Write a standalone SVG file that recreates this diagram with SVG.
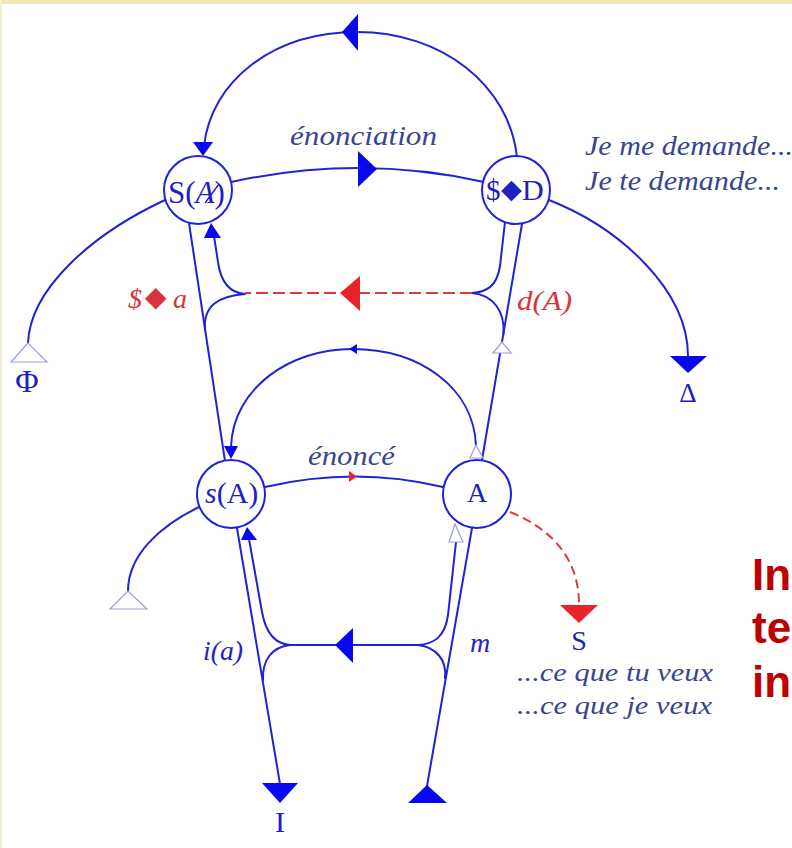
<svg xmlns="http://www.w3.org/2000/svg" width="792" height="848" viewBox="0 0 792 848">
<style>
.ln{fill:none;stroke:#1f22d6;stroke-width:2;stroke-linecap:round}
.nd{fill:#fff;stroke:#1f22d6;stroke-width:2}
.ah{fill:#0808ee}
.rah{fill:#e8232b}
.hol{fill:#fff;stroke:#9a9ee0;stroke-width:1.2}
.rd{fill:none;stroke:#e0393c;stroke-width:2;stroke-dasharray:12 5}
.lbl{font-family:"Liberation Serif","Times New Roman",serif;fill:#2020c0}
.it{font-family:"Liberation Serif","Times New Roman",serif;font-style:italic;fill:#3a4592}
.ri{font-family:"Liberation Serif","Times New Roman",serif;font-style:italic;fill:#d8343c}
.bi{font-family:"Liberation Serif","Times New Roman",serif;font-style:italic;fill:#2424c4}
.big{font-family:"Liberation Sans",Arial,sans-serif;font-weight:bold;font-size:44px;fill:#c00000}
.dm{font-family:"DejaVu Sans",sans-serif;font-style:normal}
</style>
<rect x="0" y="0" width="792" height="848" fill="#ffffff"/>
<rect x="0" y="0" width="792" height="4" fill="#f3e8b6"/>
<rect x="0" y="0" width="2" height="848" fill="#f5eed0"/>

<g id="connectors">
  <!-- top arc S◆D -> S(A) -->
  <path class="ln" d="M517,157 C509,85 442,32 357,32 C272,32 211,82 204,146"/>
  <polygon class="ah" points="342,32 358,14 358,51"/>
  <polygon class="ah" points="193,142 213,142 203,156"/>
  <!-- enonciation -->
  <path class="ln" d="M231,182 Q360,154 484,182"/>
  <polygon class="ah" points="377,169 358,151 358,187"/>
  <!-- S(A) to Phi -->
  <path class="ln" d="M165,200 C90,235 30,290 28,343"/>
  <polygon class="hol" points="28,343 11,362 47,362"/>
  <!-- S◆D to Delta -->
  <path class="ln" d="M549,200 C620,228 688,290 688,356"/>
  <polygon class="ah" points="670,356 707,356 688,373"/>
  <!-- left vector S(A) - s(A) -->
  <path class="ln" d="M189,223 L225,461"/>
  <path class="ln" d="M214,236 L218,262 C221,284 231,293 245,294"/>
  <path class="ln" d="M245,294 C218,296 203,306 205,330"/>
  <polygon class="ah" points="211,223 204,238 221,238"/>
  <!-- right vector S◆D - A -->
  <path class="ln" d="M522,224 L482,460"/>
  <path class="ln" d="M505,222 L500,266 C497,286 487,292 472,293"/>
  <path class="ln" d="M472,293 C494,295 505,312 503.5,334"/>
  <polygon class="hol" points="502,342 493,353 511,353"/>
  <!-- red dashed -->
  <path class="rd" d="M472,293 L245,293"/>
  <polygon class="rah" points="340,293 360,276 360,311"/>
  <!-- inner loop A -> s(A) -->
  <path class="ln" d="M476,446 C474,388 420,349 352,349 C290,349 233,388 231,447"/>
  <polygon class="ah" points="349,349 357,344 357,354"/>
  <polygon class="hol" points="476,445 470,458 483,458"/>
  <polygon class="ah" points="224,446 238,446 231,459"/>
  <!-- enonce -->
  <path class="ln" d="M265,487 Q355,466 443,487"/>
  <polygon class="rah" points="349,471 357,476.5 349,482"/>
  <!-- s(A) left -->
  <path class="ln" d="M199,507 C160,526 128,555 128,591"/>
  <polygon class="hol" points="128,591 110,609 147,609"/>
  <!-- bottom left -->
  <path class="ln" d="M237,528 L280,784"/>
  <polygon class="ah" points="262,783 298,783 280,803"/>
  <path class="ln" d="M249,539 L262,612 C266,634 276,644 290,645"/>
  <path class="ln" d="M290,645 C272,647 262,660 263,680"/>
  <polygon class="ah" points="247,527 241,540 257,540"/>
  <!-- horizontal bottom -->
  <path class="ln" d="M290,645 L418,645"/>
  <polygon class="ah" points="335,645 353,628 353,663"/>
  <!-- bottom right -->
  <path class="ln" d="M472,528 L427,786"/>
  <polygon class="ah" points="427,785 408,803 447,803"/>
  <path class="ln" d="M456,542 L448,615 C445,637 434,644 418,645"/>
  <path class="ln" d="M418,645 C436,647 447,660 445,678"/>
  <polygon class="hol" points="455,524 449,542 463,542"/>
  <!-- red dashed to S -->
  <path class="rd" style="stroke-dasharray:9 5" d="M510,512 C555,530 579,562 579,604"/>
  <polygon class="rah" points="560,605 598,605 579,623"/>
</g>

<g id="node-SA">
  <circle class="nd" cx="198" cy="190" r="34"/>
  <text class="lbl" x="168" y="203" font-size="31">S(<tspan font-style="italic">A</tspan>)</text>
  <line x1="219" y1="184" x2="205" y2="203" stroke="#2020c0" stroke-width="1.4"/>
</g>
<g id="node-SD">
  <circle class="nd" cx="516" cy="190" r="34"/>
  <text class="lbl" x="486" y="200" font-size="29">$<tspan class="dm" x="501" y="198" font-size="27">◆</tspan><tspan x="522" y="200" font-size="30">D</tspan></text>
</g>
<g id="node-sA">
  <circle class="nd" cx="231" cy="494" r="34"/>
  <text class="lbl" x="205" y="503" font-size="30"><tspan font-style="italic">s</tspan>(A)</text>
</g>
<g id="node-A">
  <circle class="nd" cx="477" cy="494" r="34"/>
  <text class="lbl" x="477" y="502" font-size="28" text-anchor="middle">A</text>
</g>

<g id="terminals">
  <text class="lbl" x="27" y="392" font-size="32" text-anchor="middle" fill="#1e4fd8">Φ</text>
  <text class="lbl" x="688" y="402" font-size="27" text-anchor="middle">Δ</text>
  <text class="lbl" x="280" y="832" font-size="30" text-anchor="middle">I</text>
  <text class="lbl" x="579" y="650" font-size="28" text-anchor="middle">S</text>
</g>

<g id="labels">
  <text class="it" x="290" y="145" font-size="28" textLength="147" lengthAdjust="spacingAndGlyphs">énonciation</text>
  <text class="it" x="585" y="155" font-size="27" textLength="208" lengthAdjust="spacingAndGlyphs">Je me demande...</text>
  <text class="it" x="585" y="190" font-size="27" textLength="195" lengthAdjust="spacingAndGlyphs">Je te demande...</text>
  <text class="it" x="308" y="465" font-size="27" textLength="87" lengthAdjust="spacingAndGlyphs">énoncé</text>
  <text class="ri" x="128" y="308" font-size="28">$<tspan class="dm" x="145" y="306" font-size="28">◆</tspan><tspan x="173" y="308">a</tspan></text>
  <text class="ri" x="517" y="310" font-size="28" textLength="55" lengthAdjust="spacingAndGlyphs">d(A)</text>
  <text class="bi" x="203" y="660" font-size="28" textLength="40" lengthAdjust="spacingAndGlyphs">i(a)</text>
  <text class="bi" x="470" y="652" font-size="28">m</text>
  <text class="it" x="517" y="681" font-size="26" textLength="196" lengthAdjust="spacingAndGlyphs">...ce que tu veux</text>
  <text class="it" x="517" y="714" font-size="26" textLength="195" lengthAdjust="spacingAndGlyphs">...ce que je veux</text>
  <text class="big" x="752" y="590">In</text>
  <text class="big" x="752" y="643">te</text>
  <text class="big" x="752" y="697">in</text>
</g>
</svg>
